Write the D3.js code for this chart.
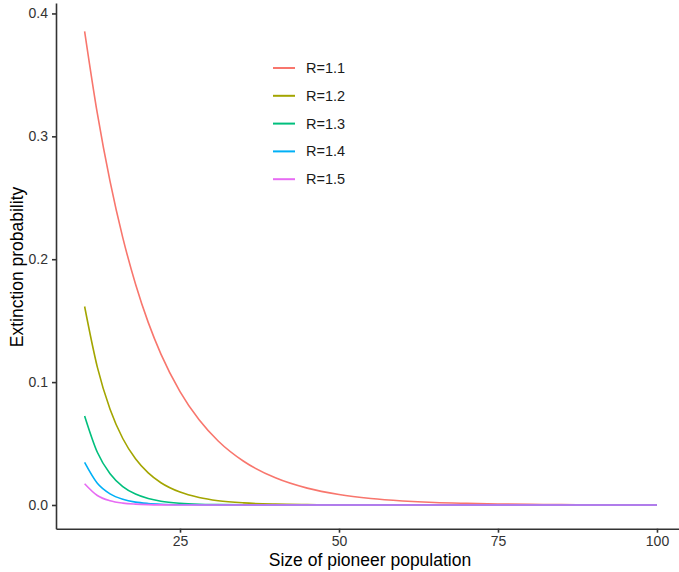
<!DOCTYPE html>
<html>
<head>
<meta charset="utf-8">
<script src="https://cdn.jsdelivr.net/npm/d3@7"></script>
<style>
  body { margin: 0; background: #fff; }
  svg { display: block; font-family: "Liberation Sans", Arial, sans-serif; }
  .axis path, .axis line { stroke: #333; stroke-width: 1.6px; }
  .axis text { fill: #333; font-size: 14px; }
  .line { fill: none; stroke-width: 1.6px; }
</style>
</head>
<body>
<div id="chart"></div>
<script>
// pioneer population sizes
let sizes = [10, 12, 14, 16, 18, 20, 22, 25, 28, 31, 35, 40, 45, 50, 55, 60, 65, 70, 75, 80, 85, 90, 95, 100];

let seriesNames = ['R=1.1', 'R=1.2', 'R=1.3', 'R=1.4', 'R=1.5'];

let r11 = [0.3855, 0.3186, 0.2633, 0.2176, 0.1799, 0.1486, 0.1228, 0.0923, 0.0693, 0.0521, 0.0356, 0.0221,
  0.0137, 0.0085, 0.0053, 0.0033, 0.0020, 0.0013, 0.0008, 0.0005, 0.0003, 0.0002, 0.0001, 0.0001];
let r12 = [0.1615, 0.1122, 0.0779, 0.0541, 0.0376, 0.0261, 0.0181, 0.0105, 0.0061, 0.0035, 0.0017, 0.0007,
  0.0003, 0.0001, 0, 0, 0, 0, 0, 0, 0, 0, 0, 0];
let r13 = [0.0725, 0.0429, 0.0254, 0.0150, 0.0089, 0.0053, 0.0031, 0.0014, 0.0006, 0.0003, 0.0001, 0,
  0, 0, 0, 0, 0, 0, 0, 0, 0, 0, 0, 0];
let r14 = [0.0346, 0.0176, 0.0090, 0.0046, 0.0023, 0.0012, 0.0006, 0.0002, 0.0001, 0, 0, 0,
  0, 0, 0, 0, 0, 0, 0, 0, 0, 0, 0, 0];
let r15 = [0.0173, 0.0077, 0.0034, 0.0015, 0.0007, 0.0003, 0.0001, 0, 0, 0, 0, 0,
  0, 0, 0, 0, 0, 0, 0, 0, 0, 0, 0, 0];

let xTicks = [25, 50, 75, 100];
let yTicks = [0, 0.1, 0.2, 0.3, 0.4];

let colors = ['#F8766D', '#A3A500', '#00BF7D', '#00B0F6', '#E76BF3'];
let allValues = [r11, r12, r13, r14, r15];

let width = 679, height = 572;

let svg = d3.select('#chart').append('svg')
  .attr('width', width)
  .attr('height', height);

let x = d3.scaleLinear().domain([5.5, 104.5]).range([56, 685.6]);
let y = d3.scaleLinear().domain([-0.0193, 0.4085]).range([528.7, 3]);

let line = d3.line()
  .x(d => x(d.x))
  .y(d => y(d.y))
  .curve(d3.curveMonotoneX);

// curves
seriesNames.forEach(function(name, i) {
  let pts = sizes.map((s, j) => ({ x: s, y: allValues[i][j] }));
  svg.append('path')
    .datum(pts)
    .attr('class', 'line')
    .attr('stroke', colors[i])
    .attr('d', line);
});

// axes
svg.append('g')
  .attr('class', 'axis')
  .attr('transform', 'translate(0,' + y.range()[0] + ')')
  .call(d3.axisBottom(x).tickValues(xTicks).tickSizeInner(4).tickSizeOuter(0).tickPadding(3));

svg.append('g')
  .attr('class', 'axis')
  .attr('transform', 'translate(' + x.range()[0] + ',0)')
  .call(d3.axisLeft(y).tickValues(yTicks).tickFormat(d3.format('.1f')).tickSizeInner(4).tickSizeOuter(0).tickPadding(4));

// axis titles
svg.append('text')
  .text('Size of pioneer population')
  .attr('x', 370)
  .attr('y', 566)
  .attr('text-anchor', 'middle')
  .style('font-size', '17.5px')
  .style('fill', '#000');

svg.append('text')
  .text('Extinction probability')
  .attr('transform', 'translate(23,' + 267 + ') rotate(-90)')
  .attr('text-anchor', 'middle')
  .style('font-size', '17.5px')
  .style('fill', '#000');

// legend
let legend = svg.append('g').attr('transform', 'translate(273,68)');
seriesNames.forEach(function(name, i) {
  let row = legend.append('g').attr('transform', 'translate(0,' + (i * 27.8) + ')');
  row.append('line')
    .attr('x1', 0).attr('x2', 22)
    .attr('y1', 0).attr('y2', 0)
    .attr('stroke', colors[i])
    .attr('stroke-width', 2);
  row.append('text')
    .text(name)
    .attr('x', 33)
    .attr('y', 5)
    .style('font-size', '14.5px')
    .style('fill', '#1a1a1a');
});
</script>
</body>
</html>
